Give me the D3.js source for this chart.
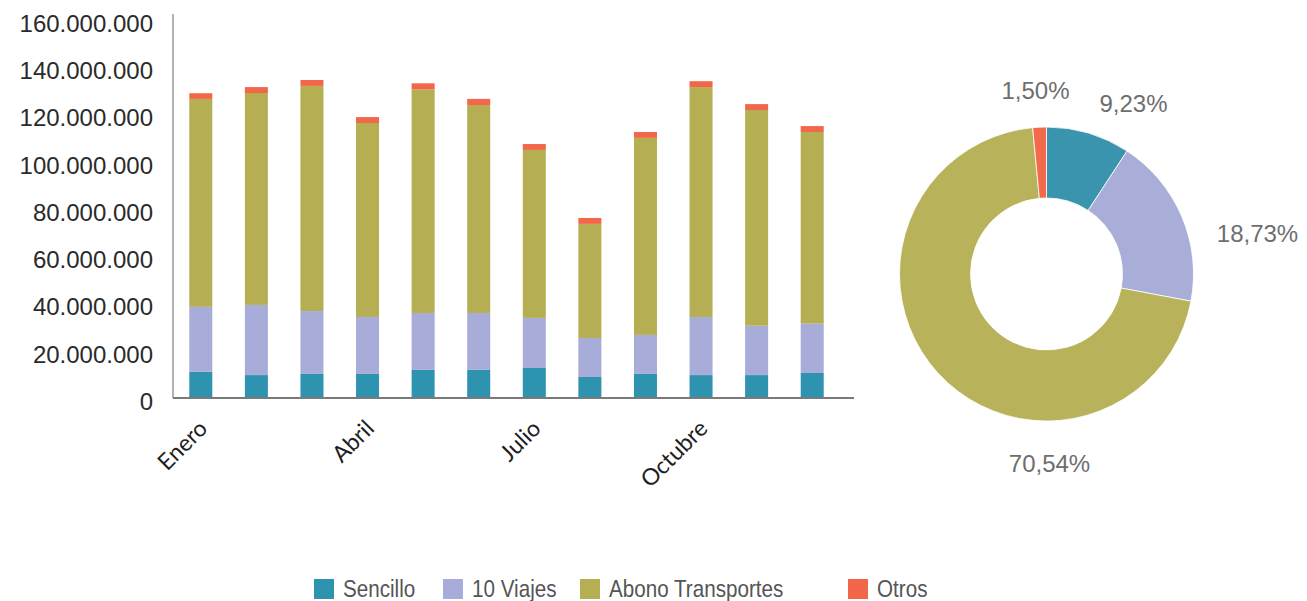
<!DOCTYPE html>
<html>
<head>
<meta charset="utf-8">
<script src="https://cdn.jsdelivr.net/npm/d3@7"></script>
<style>
  body { margin: 0; background: #fff; }
  svg { display: block; }
</style>
</head>
<body>
<svg></svg>
<script>
let months = ["Enero", "Febrero", "Marzo", "Abril", "Mayo", "Junio", "Julio", "Agosto", "Septiembre", "Octubre", "Noviembre", "Diciembre"]
let shownMonths = ["Enero", "Abril", "Julio", "Octubre"]
let seriesNames = ["Sencillo", "10 Viajes", "Abono Transportes", "Otros"]

let sencillo = [11100000, 9700000, 10200000, 10200000, 11900000, 11900000, 12700000, 8900000, 10200000, 9700000, 9700000, 10600000]
let diezViajes = [27500000, 29700000, 26600000, 24100000, 24100000, 24100000, 21200000, 16500000, 16500000, 24600000, 20900000, 20900000]
let abono = [88000000, 89700000, 95300000, 82100000, 94600000, 88000000, 71100000, 48300000, 83400000, 97300000, 91300000, 81100000]
let otros = [2400000, 2500000, 2500000, 2500000, 2600000, 2600000, 2500000, 2500000, 2500000, 2500000, 2500000, 2500000]

let yTicks = [0, 20000000, 40000000, 60000000, 80000000, 100000000, 120000000, 140000000, 160000000]

let shares = [9.23, 18.73, 70.54, 1.50]

let barColors = ["#2e93ae", "#a7acd8", "#b5ae52", "#f26649"]
let donutColors = ["#3a94ae", "#a8aed8", "#b8b35a", "#f26a4b"]

let width = 1307
let height = 601

let svg = d3.select("svg")
    .attr("width", width)
    .attr("height", height)

let locale = d3.formatLocale({ decimal: ",", thousands: ".", grouping: [3], currency: ["", "€"] })
let fmtNum = locale.format(",")
let fmtPct = locale.format(".2f")

// stacked data
let rows = months.map((m, i) => {
    return { month: m, s0: sencillo[i], s1: diezViajes[i], s2: abono[i], s3: otros[i] }
})
let stack = d3.stack().keys(["s0", "s1", "s2", "s3"])
let stacked = stack(rows)

let xScale = d3.scaleBand()
    .domain(months)
    .range([173, 840])
    .paddingInner(0.586)
    .paddingOuter(0.293)

let yScale = d3.scaleLinear()
    .domain([0, 160000000])
    .range([398, 20])

// bars
svg.append("g")
    .selectAll("g")
    .data(stacked)
    .enter()
    .append("g")
    .attr("fill", (d, i) => barColors[i])
    .selectAll("rect")
    .data((d) => d)
    .enter()
    .append("rect")
    .attr("x", (d) => xScale(d.data.month))
    .attr("width", xScale.bandwidth())
    .attr("y", (d) => yScale(d[1]))
    .attr("height", (d) => yScale(d[0]) - yScale(d[1]))

// y axis
let yAxis = d3.axisLeft(yScale)
    .tickValues(yTicks)
    .tickFormat(fmtNum)
    .tickSize(0)
    .tickPadding(20)

let yg = svg.append("g")
    .attr("transform", "translate(173,0)")
    .call(yAxis)
yg.select(".domain").remove()
yg.selectAll("text")
    .attr("font-family", "'Liberation Sans', Arial, sans-serif")
    .attr("font-size", 24)
    .attr("fill", "#2a2a2a")
    .attr("dy", "0.47em")

svg.append("line")
    .attr("x1", 173).attr("x2", 173)
    .attr("y1", 14).attr("y2", 398)
    .attr("stroke", "#9a9a9a")
    .attr("stroke-width", 1.5)

// x axis
let xAxis = d3.axisBottom(xScale)
    .tickValues(shownMonths)
    .tickSize(0)
    .tickPadding(0)

let xg = svg.append("g")
    .attr("transform", "translate(0,398)")
    .call(xAxis)
xg.select(".domain").remove()
xg.selectAll("text")
    .attr("font-family", "Lato, 'Open Sans', sans-serif")
    .attr("font-size", 23)
    .attr("fill", "#1e1e1e")
    .attr("text-anchor", "end")
    .attr("dy", 0)
    .attr("transform", "translate(8,32) rotate(-45)")

svg.append("line")
    .attr("x1", 173).attr("x2", 854)
    .attr("y1", 398).attr("y2", 398)
    .attr("stroke", "#7a7a7a")
    .attr("stroke-width", 2)

// donut
let cx = 1046.5
let cy = 274
let pie = d3.pie().sort(null).value((d) => d)
let arc = d3.arc().innerRadius(76).outerRadius(147)

let dg = svg.append("g").attr("transform", "translate(" + cx + "," + cy + ")")
dg.selectAll("path")
    .data(pie(shares))
    .enter()
    .append("path")
    .attr("d", arc)
    .attr("fill", (d, i) => donutColors[i])
    .attr("stroke", "#fff")
    .attr("stroke-width", 0.8)

// label placement relative to donut centre
let labelOffsets = [[87, -171], [211, -41], [3, 189], [-11, -184]]
dg.selectAll("text")
    .data(shares)
    .enter()
    .append("text")
    .attr("x", (d, i) => labelOffsets[i][0])
    .attr("y", (d, i) => labelOffsets[i][1])
    .attr("dy", "0.36em")
    .attr("text-anchor", "middle")
    .attr("font-family", "'Liberation Sans', Arial, sans-serif")
    .attr("font-size", 24)
    .attr("fill", "#6e6e6e")
    .text((d) => fmtPct(d) + "%")

// legend (narrow look by squeezing the regular face)
let legendX = [314, 443, 580, 848]
let lg = svg.append("g")
seriesNames.forEach((name, i) => {
    lg.append("rect")
        .attr("x", legendX[i])
        .attr("y", 579)
        .attr("width", 20)
        .attr("height", 20)
        .attr("fill", barColors[i])
    lg.append("text")
        .attr("transform", "translate(" + (legendX[i] + 29) + ",597) scale(0.86,1)")
        .attr("font-family", "'Liberation Sans', Arial, sans-serif")
        .attr("font-size", 24)
        .attr("fill", "#555")
        .text(name)
})
</script>
</body>
</html>
